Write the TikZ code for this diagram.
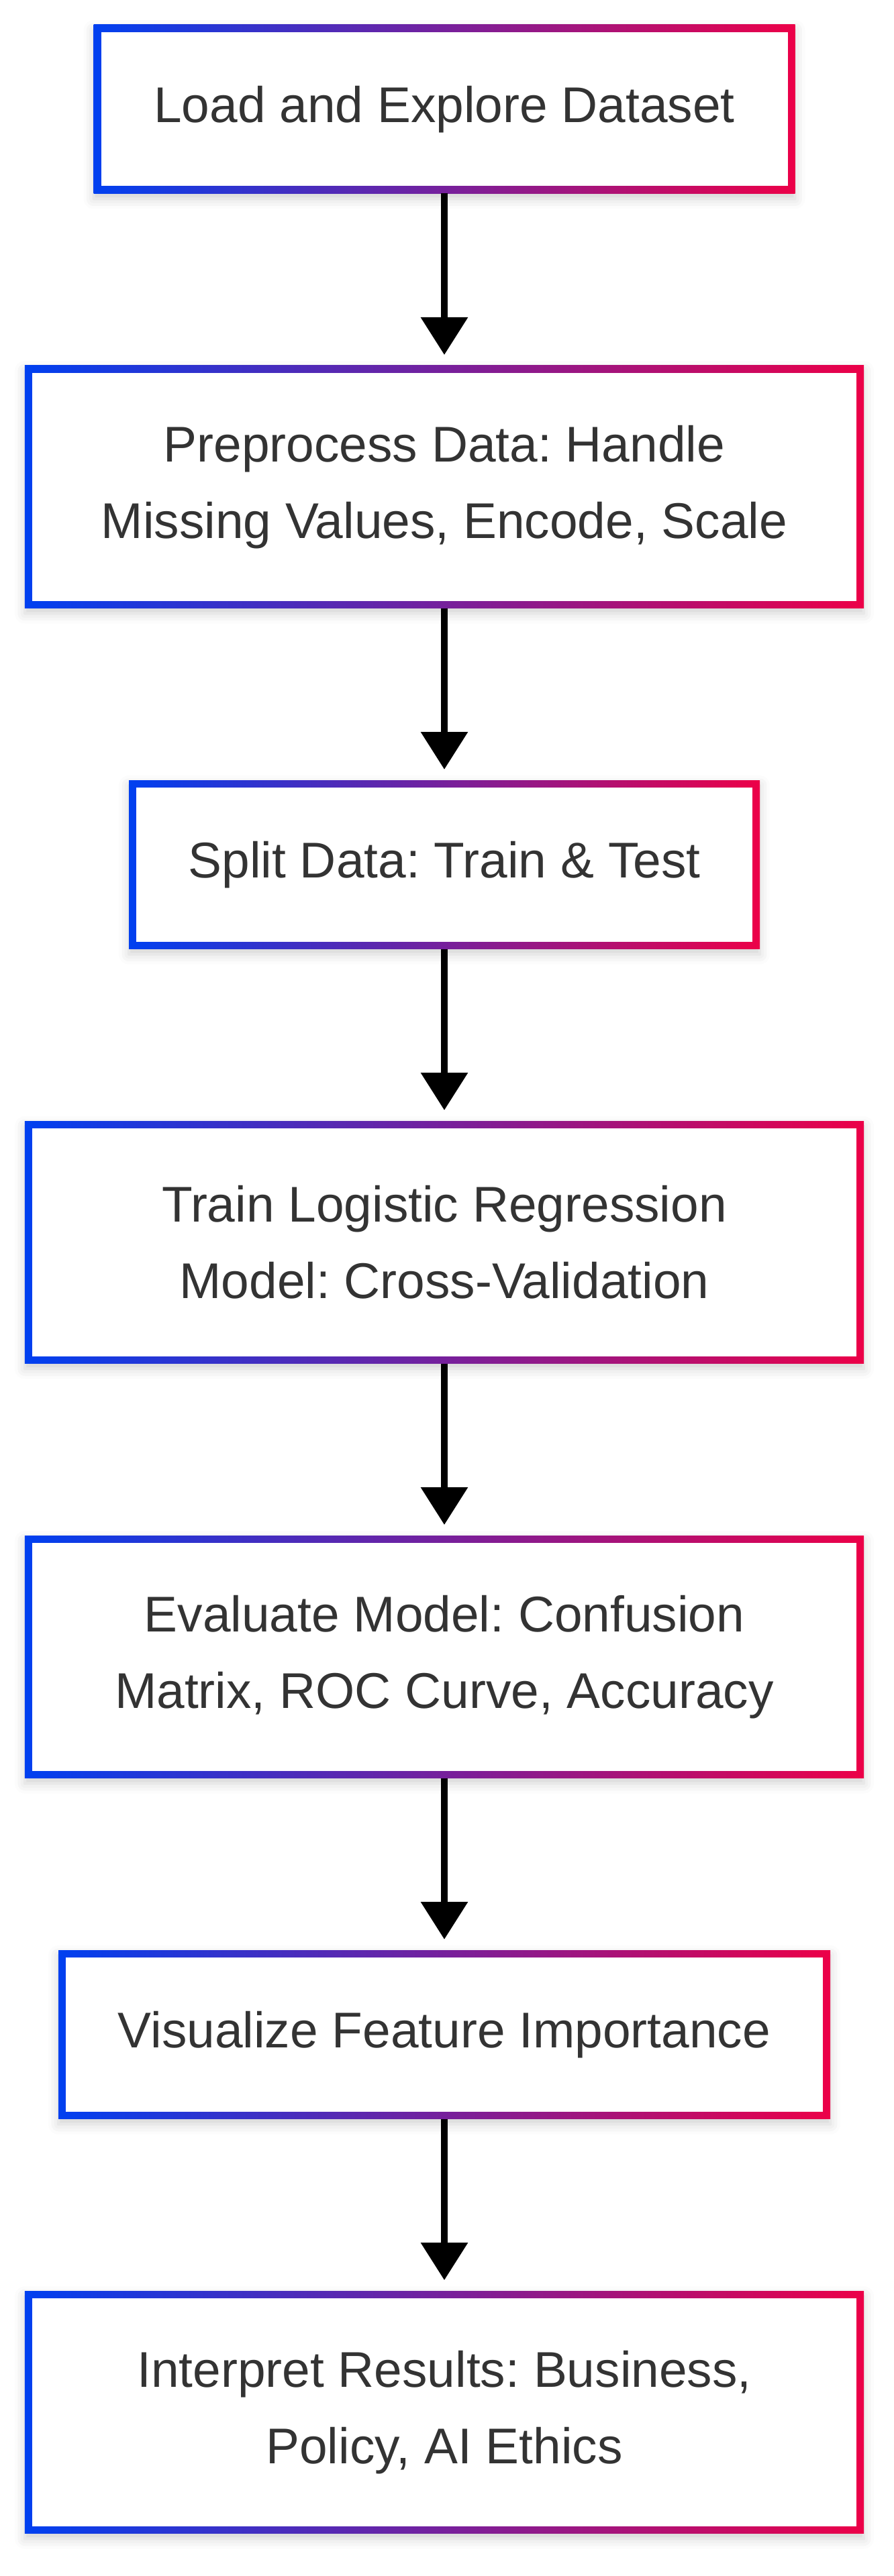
\documentclass[tikz,border=0pt]{standalone}
\usepackage{fontspec}
\setmainfont{Liberation Sans}
\usepackage{xcolor}
\usetikzlibrary{arrows.meta}
\usetikzlibrary{calc}
\usetikzlibrary{positioning}
\usetikzlibrary{shadows.blur}
\definecolor{edgeblue}{RGB}{0,64,240}
\definecolor{edgered}{RGB}{236,0,72}
\definecolor{textgray}{RGB}{51,51,51}
\frenchspacing

\begin{document}
\begin{tikzpicture}
[
	stage/.style = {rectangle, fill = white, inner sep = 0cm, outer sep = 0cm, minimum width = 10.45cm, minimum height = 2.515cm, align = center, text = textgray, font = \fontsize{21.3}{32.4}\selectfont,
		blur shadow = {shadow xshift = 0cm, shadow yshift = -0.08cm, shadow blur radius = 0.15cm, shadow opacity = 18},
		path picture = {\shade [left color = edgeblue, right color = edgered] (path picture bounding box.south west) rectangle (path picture bounding box.north east);
			\fill [white] ($(path picture bounding box.south west) + (0.11, 0.11)$) rectangle ($(path picture bounding box.north east) - (0.11, 0.11)$);}},
	tall/.style = {stage, minimum width = 12.5cm, minimum height = 3.615cm},
	node distance = 2.565cm,
	flow/.style = {-{Triangle[width = 0.68cm, length = 0.56cm]}, line width = 0.1cm, shorten > = 0.16cm},
]

	\useasboundingbox (0, 0) rectangle (13.32, -38.4);

	% steps
	\node (load) [stage, anchor = north] at (6.62, -0.37) {Load and Explore Dataset};
	\node (prep) [tall, below = of load] {Preprocess Data: Handle\\Missing Values, Encode, Scale};
	\node (split) [stage, minimum width = 9.4cm, below = of prep] {Split Data: Train \& Test};
	\node (train) [tall, below = of split] {Train Logistic Regression\\Model: Cross-Validation};
	\node (eval) [tall, below = of train] {Evaluate Model: Confusion\\Matrix, ROC Curve, Accuracy};
	\node (vis) [stage, minimum width = 11.5cm, below = of eval] {Visualize Feature Importance};
	\node (interp) [tall, below = of vis] {Interpret Results: Business,\\Policy, AI Ethics};

	% arrows
	\draw [flow] (load) -- (prep);
	\draw [flow] (prep) -- (split);
	\draw [flow] (split) -- (train);
	\draw [flow] (train) -- (eval);
	\draw [flow] (eval) -- (vis);
	\draw [flow] (vis) -- (interp);

\end{tikzpicture}
\end{document}
